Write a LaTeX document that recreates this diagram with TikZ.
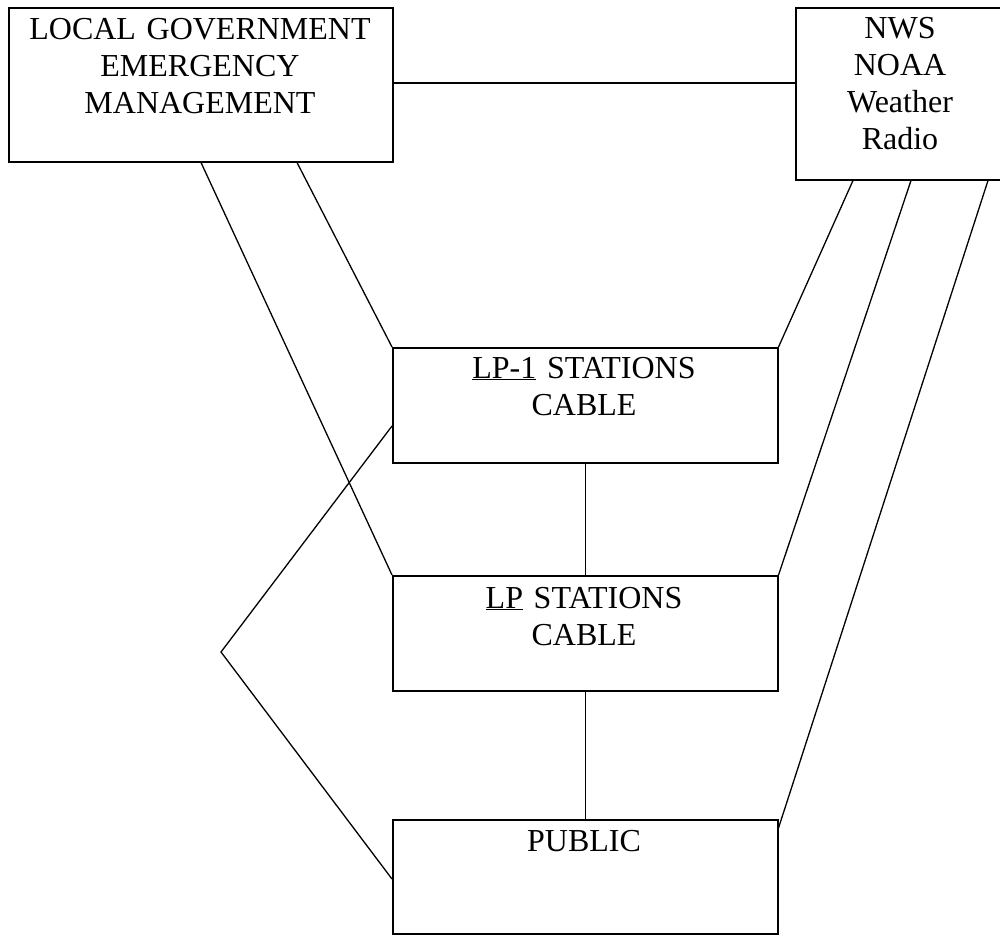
\documentclass[tikz,border=0pt]{standalone}
\usepackage{fontspec}
\setmainfont{Liberation Serif}
\begin{document}
\begin{tikzpicture}[x=1pt,y=-1pt,
  box/.style={draw, line width=1.5pt, rectangle, inner sep=0pt, anchor=north west},
  txt/.style={font=\fontsize{32}{37}\selectfont, align=center, text width=380pt, anchor=base, inner sep=0pt},
  conn/.style={line width=1.3pt}]
\useasboundingbox (0,0) rectangle (1000,935);
% boxes
\node[box, minimum width=384pt, minimum height=154pt] (lg) at (8,7) {};
\node[box, minimum width=212pt, minimum height=172pt] (nws) at (795,7) {};
\node[box, minimum width=385pt, minimum height=115pt] (lp1) at (392,347) {};
\node[box, minimum width=385pt, minimum height=115pt] (lp) at (392,575) {};
\node[box, minimum width=385pt, minimum height=114pt] (pub) at (392,819) {};
% texts
\node[txt] (lgt) at (200,39) {LOCAL GOVERNMENT\\EMERGENCY\\MANAGEMENT};
\node[txt] (nwst) at (900,38) {NWS\\NOAA\\Weather\\Radio};
\node[txt] (lp1t) at (584,378) {\underline{LP-1} STATIONS\\CABLE};
\node[txt] (lpt) at (584,608) {\underline{LP} STATIONS\\CABLE};
\node[txt] (pubt) at (584,851) {PUBLIC};
% connectors
\coordinate (v) at (221,652);
\draw[conn] ([yshift=-76pt]lg.north east) -- ([yshift=-76pt]nws.north west);
\draw[conn] ([xshift=193pt]lg.south west) -- (lp.north west);
\draw[conn] ([xshift=289pt]lg.south west) -- (lp1.north west);
\draw[conn] ([xshift=58pt]nws.south west) -- (lp1.north east);
\draw[conn] ([xshift=116pt]nws.south west) -- (lp.north east);
\draw[conn] ([xshift=193pt]nws.south west) -- ([yshift=-9pt]pub.north east);
\draw[conn] (lp1.south) -- (lp.north);
\draw[conn] (lp.south) -- (pub.north);
\draw[conn] ([yshift=-79pt]lp1.north west) -- (v) -- ([yshift=-60pt]pub.north west);
\end{tikzpicture}
\end{document}
